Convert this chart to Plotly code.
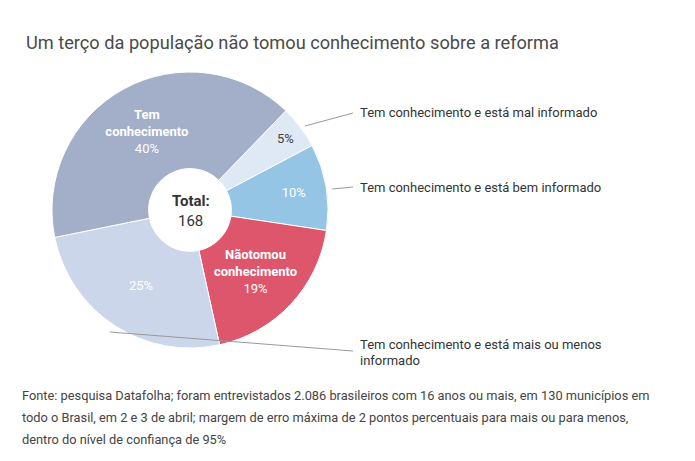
import plotly.graph_objects as go

# dados (percentuais), na ordem horaria a partir do topo-direita
categorias = [
    'Tem conhecimento e está mal informado',
    'Tem conhecimento e está bem informado',
    'Não tomou conhecimento',
    'Tem conhecimento e está mais ou menos informado',
    'Tem conhecimento',
]
valores = [5, 10, 19, 25, 40]
rotulos = ['5%', '10%', '<b>Nãotomou<br>conhecimento</b><br>19%', '25%',
           '<b>Tem<br>conhecimento</b><br>40%']
cores = ['#dfe9f5', '#94c5e4', '#de566b', '#cbd6eb', '#a3aec8']
cores_texto = ['#444444', 'white', 'white', 'white', 'white']
total = 168

titulo = 'Um terço da população não tomou conhecimento sobre a reforma'
fonte_linhas = [
    'Fonte: pesquisa Datafolha; foram entrevistados 2.086 brasileiros com 16 anos ou mais, em 130 municípios em',
    'todo o Brasil, em 2 e 3 de abril; margem de erro máxima de 2 pontos percentuais para mais ou para menos,',
    'dentro do nível de confiança de 95%',
]

W, H = 695, 461
FONT = 'Roboto'

fig = go.Figure()
fig.add_trace(go.Pie(
    labels=categorias,
    values=valores,
    text=rotulos,
    texttemplate='%{text}',
    textposition='inside',
    insidetextorientation='horizontal',
    insidetextfont=dict(family=FONT, size=13, color=cores_texto),
    marker=dict(colors=cores, line=dict(color='white', width=1)),
    hole=0.30,
    sort=False,
    direction='clockwise',
    rotation=44,
    hoverinfo='label+percent',
    domain=dict(x=[52 / W, 328 / W], y=[1 - 348 / H, 1 - 72 / H]),
    showlegend=False,
))

def px(x, y):
    return x / W, 1 - y / H

def texto(x, y, t, size, color='#333333', anchor='left'):
    xx, yy = px(x, y)
    fig.add_annotation(x=xx, y=yy, xref='paper', yref='paper', text=t, showarrow=False,
                       xanchor=anchor, yanchor='middle', align=anchor,
                       font=dict(family=FONT, size=size, color=color))

# linhas de chamada
chamadas = [
    ((305, 126), (353, 113)),
    ((332, 189), (353, 187)),
    ((110, 332), (353, 351)),
]
for (x0, y0), (x1, y1) in chamadas:
    a, b = px(x0, y0)
    c, d = px(x1, y1)
    fig.add_shape(type='line', xref='paper', yref='paper', x0=a, y0=b, x1=c, y1=d,
                  line=dict(color='#999999', width=1))

texto(358, 112, 'Tem conhecimento e está mal informado', 13)
texto(358, 187, 'Tem conhecimento e está bem informado', 13)
texto(358, 344, 'Tem conhecimento e está mais ou menos', 13)
texto(358, 360, 'informado', 13)

texto(191, 201, '<b>Total:</b>', 15, anchor='center')
texto(191, 221, str(total), 15, anchor='center')

texto(24, 42, titulo, 18.2, color='#4a4a4a')

for i, linha in enumerate(fonte_linhas):
    texto(20, 395 + 22 * i, linha, 12.8, color='#444444')

fig.update_layout(
    width=W, height=H,
    margin=dict(l=0, r=0, t=0, b=0),
    paper_bgcolor='white', plot_bgcolor='white',
)

fig.write_html('out.html', config={'displayModeBar': False},
               post_script="document.body.style.margin='0px';")
